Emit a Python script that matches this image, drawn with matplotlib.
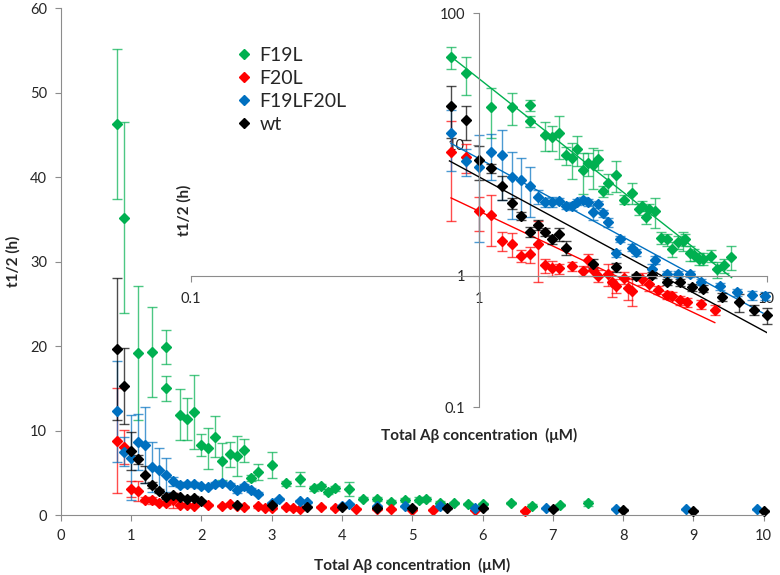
import numpy as np
import matplotlib.pyplot as plt
from matplotlib.lines import Line2D
from matplotlib.colors import to_rgba
from matplotlib.ticker import FixedLocator, FixedFormatter, NullLocator

plt.rcParams['font.family'] = ['Lato', 'DejaVu Sans']

# ---------------- data ----------------
# F19L
g_x = [0.8, 0.9, 1.1, 1.3, 1.5, 1.5, 1.7, 1.8, 1.9, 2.0, 2.1, 2.2, 2.3, 2.4, 2.5, 2.6, 2.7, 2.8,
       3.0, 3.2, 3.4, 3.6, 3.7, 3.8, 3.9, 4.1, 4.3, 4.5, 4.7, 4.9, 5.1, 5.2, 5.4, 5.6, 5.8, 6.0,
       6.4, 6.7, 7.1, 7.5]
g_y = [46.3, 35.2, 19.2, 19.3, 19.9, 15.0, 11.9, 11.4, 12.2, 8.3, 7.9, 9.3, 6.4, 7.2, 7.0, 7.7, 4.4, 5.1,
       5.9, 3.8, 4.3, 3.2, 3.4, 2.8, 3.2, 3.1, 1.95, 1.9, 1.6, 1.8, 1.85, 1.9, 1.5, 1.45, 1.35, 1.35,
       1.42, 1.12, 1.2, 1.4]
g_e = [8.9, 11.3, 7.9, 5.3, 2.0, 1.5, 3.0, 2.5, 4.4, 1.35, 2.4, 2.4, 2.2, 1.45, 2.4, 1.35, 0.4, 0.9,
       1.55, 0.3, 0.8, 0.3, 0.3, 0.3, 0.3, 0.8, 0.2, 0.2, 0.2, 0.2, 0.3, 0.2, 0.2, 0.15, 0.15, 0.15,
       0.15, 0.15, 0.15, 0.3]

# F20L
r_x = [0.8, 0.9, 1.0, 1.1, 1.2, 1.3, 1.4, 1.5, 1.6, 1.7, 1.8, 1.9, 2.1, 2.3, 2.4, 2.5, 2.6, 2.8,
       2.9, 3.0, 3.2, 3.3, 3.4, 3.7, 3.9, 4.2, 4.5, 4.7, 5.0, 5.3, 5.9, 6.6]
r_y = [8.8, 8.1, 3.1, 2.9, 1.85, 1.75, 1.42, 1.46, 1.75, 1.2, 1.15, 1.14, 1.18, 1.09, 1.32, 1.1, 1.0, 1.04,
       0.89, 0.84, 0.97, 0.81, 0.77, 0.95, 0.86, 0.78, 0.72, 0.70, 0.65, 0.63, 0.61, 0.55]
r_e = [6.2, 2.0, 0.9, 1.2, 0.3, 0.37, 0.15, 0.2, 0.85, 0.15, 0.15, 0.1, 0.1, 0.1, 0.15, 0.1, 0.1, 0.2,
       0.2, 0.1, 0.1, 0.15, 0.18, 0.1, 0.1, 0.05, 0.05, 0.05, 0.05, 0.05, 0.05, 0.05]

# F19LF20L
b_x = [0.8, 0.9, 1.0, 1.1, 1.2, 1.3, 1.4, 1.5, 1.6, 1.7, 1.8, 1.9, 2.0, 2.1, 2.2, 2.3, 2.4, 2.5,
       2.6, 2.7, 2.8, 3.0, 3.1, 3.4, 3.5, 4.0, 4.1, 4.5, 4.9, 5.4, 5.9, 6.9, 7.9, 8.9, 9.9]
b_y = [12.3, 7.5, 6.8, 8.7, 8.3, 5.7, 5.4, 4.8, 4.0, 3.63, 3.67, 3.73, 3.42, 3.38, 3.67, 3.8, 3.63, 3.04,
       3.5, 2.99, 2.55, 1.48, 1.9, 1.64, 1.51, 1.12, 1.32, 1.04, 1.03, 1.03, 0.90, 0.83, 0.75, 0.71, 0.70]
b_e = [6.0, 1.7, 5.0, 3.3, 4.5, 3.0, 2.5, 2.0, 0.5, 0.3, 0.3, 0.2, 0.2, 0.2, 0.2, 0.2, 0.2, 0.4,
       0.2, 0.2, 0.2, 0.1, 0.1, 0.1, 0.1, 0.1, 0.1, 0.05, 0.05, 0.05, 0.05, 0.05, 0.05, 0.05, 0.05]

# wt
k_x = [0.8, 0.9, 1.0, 1.1, 1.2, 1.3, 1.4, 1.5, 1.6, 1.7, 1.8, 1.9, 2.0, 2.5, 3.0, 3.5, 4.0, 4.5,
       5.0, 5.5, 6.0, 7.0, 8.0, 9.0, 10.0]
k_y = [19.7, 15.3, 7.6, 6.6, 4.8, 3.56, 2.87, 2.17, 2.44, 2.17, 1.9, 2.08, 1.64, 1.24, 1.16, 0.99, 1.02, 0.90,
       0.89, 0.82, 0.80, 0.69, 0.63, 0.55, 0.50]
k_e = [8.4, 4.5, 2.2, 0.55, 1.0, 0.35, 0.2, 0.2, 0.2, 0.15, 0.15, 0.25, 0.2, 0.1, 0.1, 0.05, 0.05, 0.05,
       0.05, 0.05, 0.05, 0.05, 0.1, 0.05, 0.07]

# power-law trend lines (end points, straight on log-log)
g_fit_x, g_fit_y = [0.79, 7.55], [47.7, 0.97]
b_fit_x, b_fit_y = [0.80, 9.7], [10.2, 0.52]
k_fit_x, k_fit_y = [0.79, 10.0], [7.5, 0.37]
r_fit_x, r_fit_y = [0.80, 6.6], [3.92, 0.44]

labels = ['F19L', 'F20L', 'F19LF20L', 'wt']
colors = ['#00B050', '#FF0000', '#0070C0', '#000000']
series = [(g_x, g_y, g_e), (r_x, r_y, r_e), (b_x, b_y, b_e), (k_x, k_y, k_e)]
fits = [(g_fit_x, g_fit_y), (r_fit_x, r_fit_y), (b_fit_x, b_fit_y), (k_fit_x, k_fit_y)]

spine_c = '#8C8C8C'
text_c = '#262626'

fig = plt.figure(figsize=(7.8, 5.75), dpi=100)
ax = fig.add_axes([0.078, 0.104, 0.901, 0.882])
ins = fig.add_axes([0.245, 0.292, 0.738, 0.685])
ins.patch.set_alpha(0)

# ---------------- main linear plot ----------------
for (x, y, e), c in zip(series, colors):
    ax.errorbar(x, y, yerr=e, fmt='D', color=c, ms=5, mec=c, ecolor=to_rgba(c, 0.7),
                elinewidth=1, capsize=3.5, capthick=1, clip_on=False)

ax.set_xlim(0, 10)
ax.set_ylim(0, 60)
ax.set_xticks(range(0, 11))
ax.set_yticks(range(0, 61, 10))
for s in ['top', 'right']:
    ax.spines[s].set_visible(False)
for s in ['left', 'bottom']:
    ax.spines[s].set_color(spine_c)
ax.tick_params(direction='out', length=4, color=spine_c, labelsize=10.5, labelcolor=text_c, pad=6)
ax.set_xlabel('Total Aβ concentration  (μM)', fontsize=11, fontweight='bold', color=text_c)
ax.set_ylabel('t1/2 (h)', fontsize=11, fontweight='bold', color=text_c)
ax.xaxis.set_label_coords(0.5, -0.085)
ax.yaxis.set_label_coords(-0.058, 0.5)

# ---------------- log-log inset ----------------
for (x, y, e), (fx, fy), c in zip(series, fits, colors):
    ins.errorbar(x, y, yerr=e, fmt='D', color=c, ms=5, mec=c, ecolor=to_rgba(c, 0.7),
                 elinewidth=1, capsize=3.5, capthick=1, clip_on=False)
    ins.plot(fx, fy, color=c, lw=1)

ins.set_xscale('log')
ins.set_yscale('log')
ins.set_xlim(0.1, 10)
ins.set_ylim(0.1, 100)
for s in ['top', 'right']:
    ins.spines[s].set_visible(False)
ins.spines['left'].set_position(('data', 1))
ins.spines['bottom'].set_position(('data', 1))
for s in ['left', 'bottom']:
    ins.spines[s].set_color(spine_c)
ins.xaxis.set_major_locator(FixedLocator([0.1, 1, 10]))
ins.xaxis.set_major_formatter(FixedFormatter(['0.1', '1', '10']))
ins.yaxis.set_major_locator(FixedLocator([0.1, 1, 10, 100]))
ins.yaxis.set_major_formatter(FixedFormatter(['0.1', '1', '10', '100']))
ins.xaxis.set_minor_locator(NullLocator())
ins.yaxis.set_minor_locator(NullLocator())
ins.tick_params(direction='out', length=4, color=spine_c, labelsize=10.5, labelcolor=text_c)
ins.tick_params(axis='x', pad=8)
ins.tick_params(axis='y', pad=6)
ins.set_xlabel('Total Aβ concentration  (μM)', fontsize=11, fontweight='bold', color=text_c)
ins.set_ylabel('t1/2 (h)', fontsize=11, fontweight='bold', color=text_c)
ins.xaxis.set_label_coords(0.5, -0.053)
ins.yaxis.set_label_coords(0.0, 0.5)

# ---------------- legend ----------------
handles = [Line2D([], [], marker='D', ls='none', color=c, ms=5) for c in colors]
fig.legend(handles, labels, loc='upper left', bbox_to_anchor=(236 / 780, 1 - 47 / 575),
           frameon=False, fontsize=14, handlelength=0.8, handletextpad=0.4,
           labelspacing=0.3, borderpad=0, borderaxespad=0, labelcolor=text_c)

fig.savefig('out.png', dpi=100)
